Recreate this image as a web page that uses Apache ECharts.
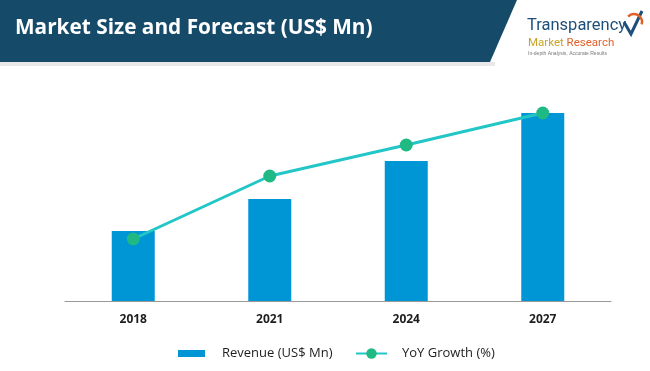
<!DOCTYPE html>
<html><head><meta charset="utf-8">
<script src="https://cdn.jsdelivr.net/npm/echarts@6/dist/echarts.min.js"></script>
<style>html,body{margin:0;padding:0;background:#fff}#c{width:650px;height:371px}</style>
</head><body><div id="c"></div>
<script>
const categories = ['2018', '2021', '2024', '2027'];
const revenue = [70, 102, 140, 188];
const yoyGrowth = [62, 125, 156, 188];
const titleText = 'Market Size and Forecast (US$ Mn)';
const seriesNames = ['Revenue (US$ Mn)', 'YoY Growth (%)'];

const legendText = {color: '#1e1e1e', fontSize: 13, fontFamily: '"Open Sans", sans-serif'};
const chart = echarts.init(document.getElementById('c'), null, {renderer: 'canvas'});
chart.setOption({
  animation: false,
  backgroundColor: '#fff',
  graphic: [
    {type: 'polygon', shape: {points: [[0,0],[517,0],[490,62],[0,62]]}, style: {fill: '#154a69'}},
    {type: 'rect', shape: {x: 0, y: 62, width: 495, height: 4}, style: {fill: '#e8e8e8'}},
    {type: 'text', left: 15, top: 18, style: {text: titleText, fill: '#fff', font: 'bold 20.8px "Open Sans", sans-serif'}},
    {type: 'text', left: 527, top: 17, style: {text: 'Transparency', fill: '#1e4f7a', font: '16.5px "Liberation Sans Narrow", "Roboto", sans-serif'}},
    {type: 'text', left: 528, top: 37, style: {rich: {a: {fill: '#c9a227', font: '11.5px "Liberation Sans Narrow", Roboto, sans-serif'}, b: {fill: '#e0622a', font: '11.5px "Liberation Sans Narrow", Roboto, sans-serif'}}, text: '{a|Market }{b|Research}'}},
    {type: 'text', left: 528, top: 51, style: {text: 'In-depth Analysis, Accurate Results', fill: '#777', font: '5px sans-serif'}},
    {type: 'polyline', shape: {points: [[624,22],[631,34],[642,11]]}, style: {stroke: '#1e4f7a', lineWidth: 3, fill: null}},
    {type: 'arc', shape: {cx: 634, cy: 22, r: 8, startAngle: -2.4, endAngle: 0.3}, style: {stroke: '#e0622a', lineWidth: 2.5, fill: null}}
  ],
  legend: [
    {
      left: 173, top: 342,
      itemWidth: 27, itemHeight: 7,
      textStyle: Object.assign({padding: [0, 0, 0, 12]}, legendText),
      data: [{name: seriesNames[0], icon: 'rect'}]
    },
    {
      left: 350, top: 342,
      itemWidth: 31, itemHeight: 13,
      textStyle: Object.assign({padding: [0, 0, 0, 10]}, legendText),
      data: [{name: seriesNames[1]}]
    }
  ],
  grid: {left: 65, right: 39, top: 101, bottom: 70},
  xAxis: {
    type: 'category',
    data: categories,
    axisLine: {lineStyle: {color: '#999', width: 1}},
    axisTick: {show: false},
    axisLabel: {color: '#1e1e1e', fontWeight: 'bold', fontSize: 12, margin: 13, fontFamily: '"Open Sans", sans-serif'}
  },
  yAxis: {type: 'value', min: 0, max: 200, show: false, splitLine: {show: false}},
  series: [
    {name: seriesNames[0], type: 'bar', data: revenue, barWidth: 43, itemStyle: {color: '#0096d6'}},
    {name: seriesNames[1], type: 'line', data: yoyGrowth, symbol: 'circle', symbolSize: 13,
     lineStyle: {color: '#22c6c6', width: 3}, itemStyle: {color: '#1fb984'}}
  ]
});
</script></body></html>
